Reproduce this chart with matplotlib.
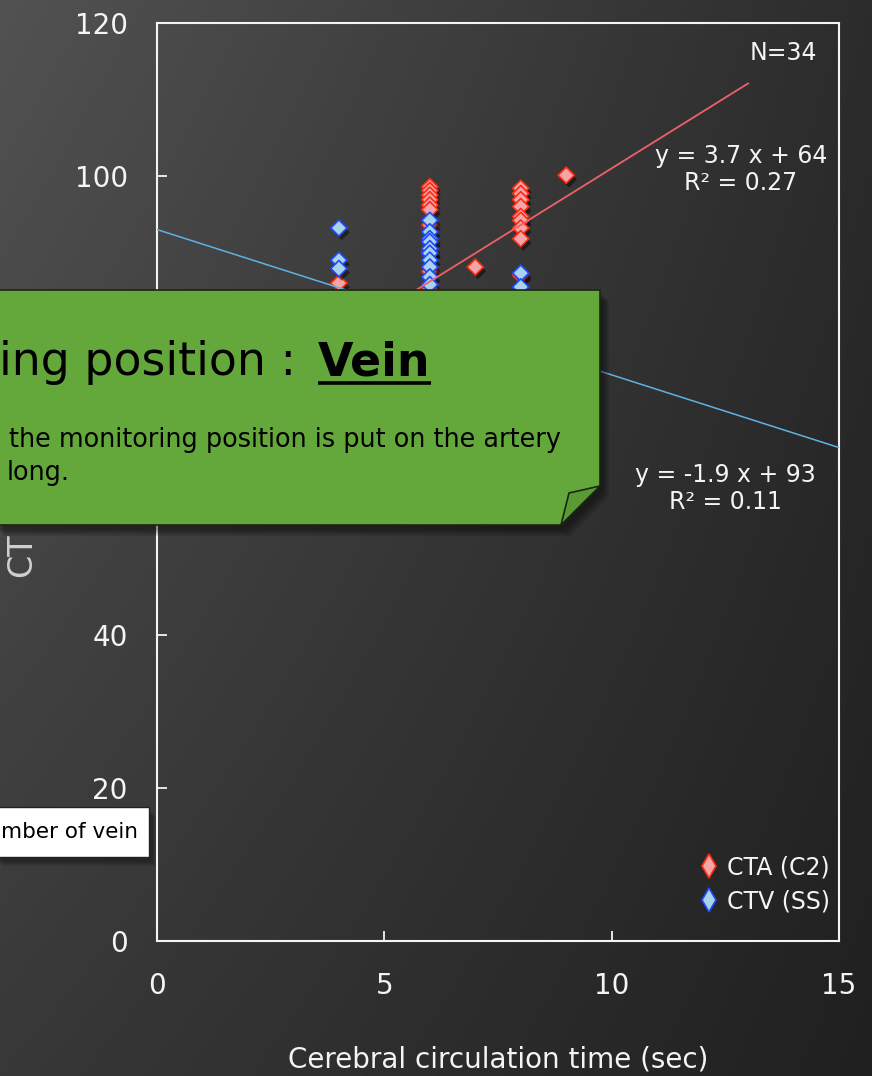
import numpy as np
import matplotlib
matplotlib.use("Agg")
import matplotlib.pyplot as plt
import matplotlib.patheffects as pe
from matplotlib.patches import Polygon
from matplotlib.lines import Line2D

plt.rcParams["font.family"] = ["DejaVu Sans"]

# ---- data -------------------------------------------------------------
# CTA (C2): arterial enhancement vs cerebral circulation time
cta_x = [4, 6, 6, 6, 6, 6, 6, 6, 6, 6, 6, 6, 7, 8, 8, 8, 8, 8, 8, 8, 8, 8, 9]
cta_y = [86.0, 98.6, 98.1, 97.5, 96.9, 96.2, 95.6, 93.6, 90.0, 87.5, 85.2, 84.6,
         88.1, 98.4, 97.7, 96.9, 96.0, 94.7, 94.2, 93.2, 91.8, 87.0, 100.1]
# CTV (SS): venous enhancement vs cerebral circulation time
ctv_x = [4, 4, 4, 6, 6, 6, 6, 6, 6, 6, 6, 6, 6, 8, 8]
ctv_y = [93.2, 89.0, 87.9, 94.2, 92.7, 91.8, 91.4, 90.5, 89.9, 89.0, 88.1,
         86.8, 85.8, 87.3, 85.5]

# linear trend lines
cta_slope, cta_intercept, cta_r2 = 3.7, 64, 0.27
ctv_slope, ctv_intercept, ctv_r2 = -1.9, 93, 0.11
cta_fit_range = [4, 13]
ctv_fit_range = [0, 15]

series_labels = ["CTA (C2)", "CTV (SS)"]
n_cases = 34
x_ticks = [0, 5, 10, 15]
y_ticks = [0, 20, 40, 60, 80, 100, 120]
x_label = "Cerebral circulation time (sec)"
y_label = "CT"

# ---- styling ----------------------------------------------------------
W, H = 872, 1076
CTA_FACE, CTA_EDGE, CTA_LINE = "#f3a5a8", "#ff2a10", "#f0606a"
CTV_FACE, CTV_EDGE, CTV_LINE = "#a8d3ea", "#1f48ff", "#5fb2e2"
FG = "#f4f4f4"

fig = plt.figure(figsize=(W / 100, H / 100), dpi=100)

# dark slide background, lighter in the upper-left corner
bg = fig.add_axes([0, 0, 1, 1], zorder=-10)
bg.axis("off")
yy, xx = np.mgrid[0:1:300j, 0:1:300j]
tl, tr, bl, br = 0x52, 0x2c, 0x38, 0x20
v = tl * (1 - xx) * (1 - yy) + tr * xx * (1 - yy) + bl * (1 - xx) * yy + br * xx * yy
bg.imshow(np.dstack([v, v, v]) / 255.0, extent=[0, 1, 0, 1], aspect="auto",
          origin="upper")
bg.set_xlim(0, 1)
bg.set_ylim(0, 1)

# ---- main chart -------------------------------------------------------
ax = fig.add_axes([157 / W, 1 - 941 / H, 682 / W, 918 / H])
ax.set_facecolor("none")
ax.set_xlim(0, 15)
ax.set_ylim(0, 120)
ax.set_xticks(x_ticks)
ax.set_yticks(y_ticks)
for s in ax.spines.values():
    s.set_color(FG)
    s.set_linewidth(1.5)
ax.tick_params(direction="in", length=7, width=1.3, color=FG, labelcolor=FG,
               labelsize=20)
ax.tick_params(axis="y", pad=21)
ax.tick_params(axis="x", pad=22)
ax.set_xlabel(x_label, color=FG, fontsize=20, labelpad=33)
ax.set_ylabel(y_label, color="#d0d0d0", fontsize=24, ha="left", va="center")
ax.yaxis.set_label_coords((22 - 157) / 682, (941 - 577) / 918)

shadow = [pe.SimplePatchShadow(offset=(2, -3), shadow_rgbFace="black", alpha=0.45),
          pe.Normal()]
ax.scatter(cta_x, cta_y, marker="D", s=68, facecolor=CTA_FACE, edgecolor=CTA_EDGE,
           linewidth=1.2, zorder=3, path_effects=shadow)
ax.scatter(ctv_x, ctv_y, marker="D", s=68, facecolor=CTV_FACE, edgecolor=CTV_EDGE,
           linewidth=1.2, zorder=4, path_effects=shadow)

xs = np.array(cta_fit_range, dtype=float)
ax.plot(xs, cta_slope * xs + cta_intercept, color=CTA_LINE, lw=1.3, zorder=5)
xs = np.array(ctv_fit_range, dtype=float)
ax.plot(xs, ctv_slope * xs + ctv_intercept, color=CTV_LINE, lw=1.1, zorder=5)

ax.text(12.84, 100.9, f"y = {cta_slope} x + {cta_intercept}\nR² = {cta_r2}",
        ha="center", va="center", color=FG, fontsize=17, linespacing=1.15)
ax.text(12.51, 59.2, f"y = {ctv_slope} x + {ctv_intercept}\nR² = {ctv_r2}",
        ha="center", va="center", color=FG, fontsize=17, linespacing=1.15)
ax.text(14.52, 116.1, f"N={n_cases}", ha="right", va="center", color=FG,
        fontsize=17)

handles = [
    Line2D([], [], ls="none", marker="d", markersize=12, markerfacecolor=CTA_FACE,
           markeredgecolor=CTA_EDGE, markeredgewidth=1.2),
    Line2D([], [], ls="none", marker="d", markersize=12, markerfacecolor=CTV_FACE,
           markeredgecolor=CTV_EDGE, markeredgewidth=1.2),
]
leg = ax.legend(handles, series_labels, loc="lower right",
                bbox_to_anchor=(1.004, 0.017), frameon=False, fontsize=17,
                labelcolor=FG, handlelength=0.8, handletextpad=0.35,
                labelspacing=0.42, borderpad=0)

# the sticky note covers the 60 and 80 labels
fig.canvas.draw()
for val, lab in zip(y_ticks, ax.get_yticklabels()):
    if val in (60, 80):
        lab.set_visible(False)

# ---- overlays in pixel coordinates -----------------------------------
ov = fig.add_axes([0, 0, 1, 1], zorder=10)
ov.set_xlim(0, W)
ov.set_ylim(H, 0)
ov.axis("off")
ov.patch.set_alpha(0)

note = np.array([(-5, 290), (600, 290), (600, 486), (561, 525), (-5, 525)])
for k in range(5):
    ov.add_patch(Polygon(note + [3 + 1.5 * k, 5 + 1.5 * k], closed=True,
                         fc="black", ec="none", alpha=0.10, clip_on=False))
ov.add_patch(Polygon(note, closed=True, fc="#64a73a", ec="#1b2612", lw=1.2,
                     clip_on=False))
ov.add_patch(Polygon([(600, 486), (569, 493), (561, 525)], closed=True,
                     fc="#5a9a33", ec="#1b2612", lw=1.2, clip_on=False))

ov.text(296, 375, "ing position :", ha="right", va="baseline", fontsize=33,
        color="black")
vein = ov.text(318, 375, "Vein", ha="left", va="baseline", fontsize=33,
               fontweight="bold", color="black")
ov.text(9, 447, "the monitoring position is put on the artery", ha="left",
        va="baseline", fontsize=18.4, color="black")
ov.text(7, 480, "long.", ha="left", va="baseline", fontsize=18.4, color="black")

fig.canvas.draw()
bb = vein.get_window_extent()
ov.plot([318, 318 + bb.width], [383, 383], color="black", lw=2.6,
        solid_capstyle="butt")

box = np.array([(-5, 807), (149, 807), (149, 857), (-5, 857)])
for k in range(4):
    ov.add_patch(Polygon(box + [2 + 1.5 * k, 4 + 1.5 * k], closed=True,
                         fc="black", ec="none", alpha=0.10, clip_on=False))
ov.add_patch(Polygon(box, closed=True, fc="white", ec="#222222", lw=1.0,
                     clip_on=False))
ov.text(138, 832, "mber of vein", ha="right", va="center", fontsize=15.5,
        color="black")

fig.savefig("out.png", dpi=100)
